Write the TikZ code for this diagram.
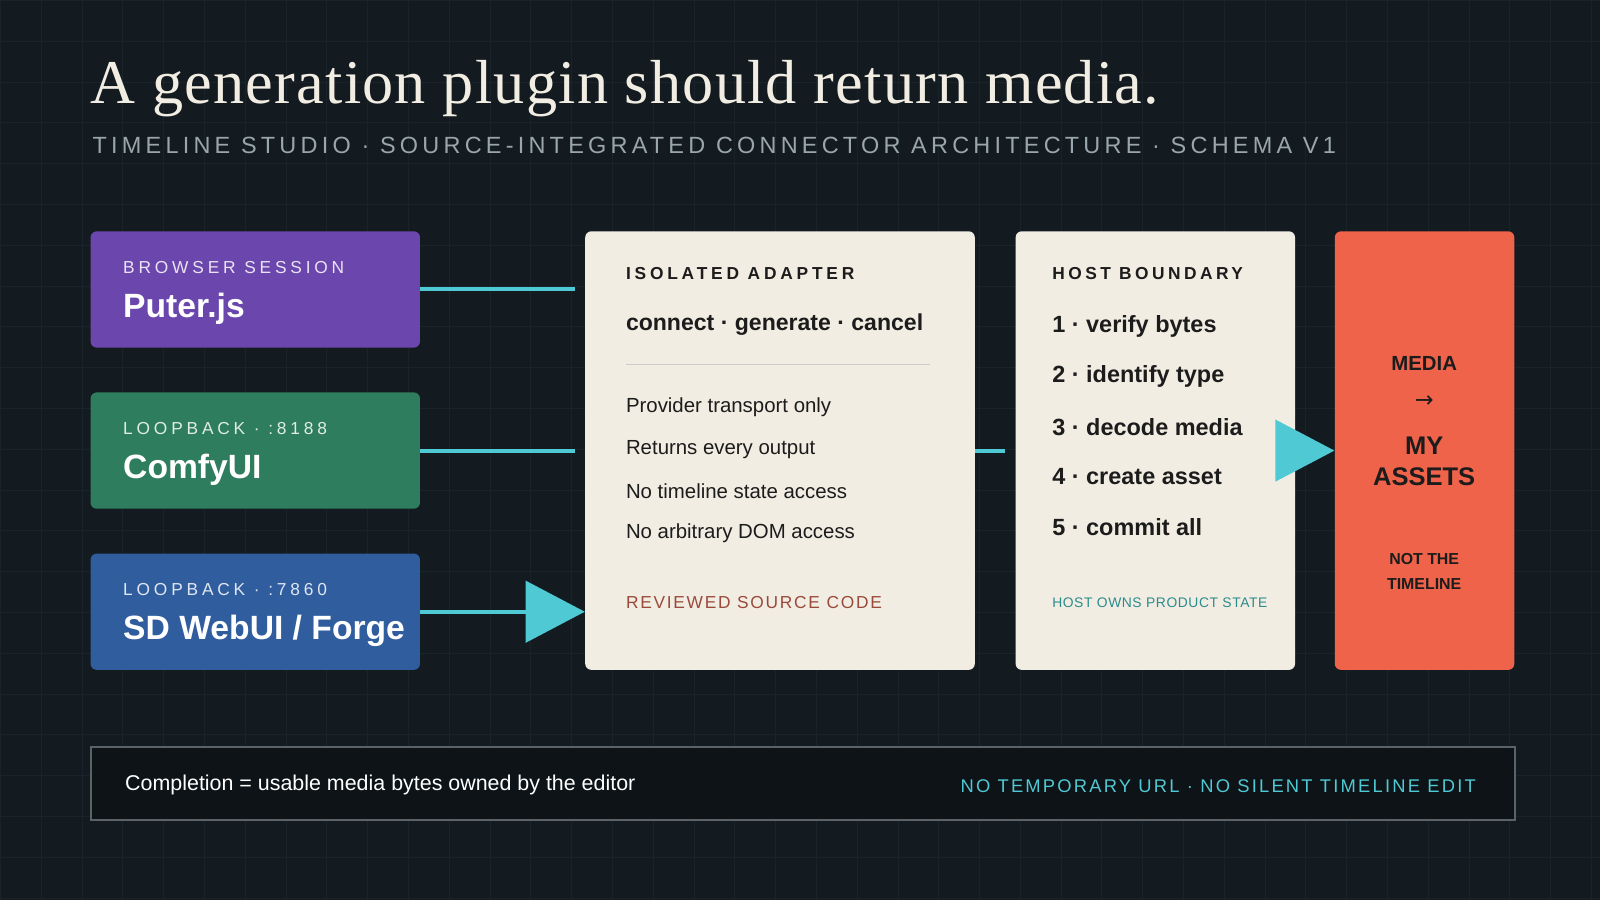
\documentclass[tikz,border=0pt]{standalone}
\usepackage{fontspec}
\setmainfont{Liberation Sans}
\newfontfamily\ttl{Liberation Serif}
\newfontfamily\dvs{DejaVu Sans}
\usetikzlibrary{arrows.meta}
\definecolor{bg}{HTML}{131B20}
\definecolor{gridc}{HTML}{1A2329}
\definecolor{cy}{HTML}{4FC9D3}
\definecolor{card}{HTML}{F2EDE3}
\definecolor{pur}{HTML}{6B47AD}
\definecolor{grn}{HTML}{2F7D5F}
\definecolor{blu}{HTML}{2F5D9E}
\definecolor{org}{HTML}{EF634A}
\definecolor{ink}{HTML}{1C1C1C}
\definecolor{sub}{HTML}{9AA6AD}
\definecolor{rev}{HTML}{9A4A3A}
\definecolor{tealc}{HTML}{2A8C8C}
\definecolor{footbg}{HTML}{0D1317}
\definecolor{footln}{HTML}{5A6368}
\begin{document}
\begin{tikzpicture}[x=0.5pt,y=-0.5pt,
  box/.style={rounded corners=3pt, inner sep=0, anchor=north west},
  lab/.style={anchor=west, inner sep=0},
  conn/.style={cy, line width=2pt},
  big/.style={conn,-{Triangle[length=29pt,width=30pt]}},
]
\fill[bg] (0,0) rectangle (1568,882);
\foreach \i in {0,40,...,1560} \draw[gridc,line width=0.4pt] (\i,0) -- (\i,882);
\foreach \j in {0,40,...,880} \draw[gridc,line width=0.4pt] (0,\j) -- (1568,\j);
\useasboundingbox (0,0) rectangle (1568,882);

\node[lab,anchor=base west,text=card,font=\ttl\fontsize{30.5}{33}\selectfont] (title) at (88,101) {\addfontfeature{LetterSpace=2}A generation plugin should return media.};
\node[lab,text=sub,font=\fontsize{11.5}{13}\selectfont] (subt) at (90,142) {\addfontfeature{LetterSpace=18}TIMELINE STUDIO · SOURCE-INTEGRATED CONNECTOR ARCHITECTURE · SCHEMA V1};

\path (88,226) node[box,fill=pur,minimum width=161.5pt,minimum height=57pt] (puter) {};
\path (88,384) node[box,fill=grn,minimum width=161.5pt,minimum height=57pt] (comfy) {};
\path (88,542) node[box,fill=blu,minimum width=161.5pt,minimum height=57pt] (forge) {};
\path (573,226) node[box,fill=card,minimum width=191pt,minimum height=215pt] (adapter) {};
\path (995,226) node[box,fill=card,minimum width=137pt,minimum height=215pt] (host) {};
\path (1308,226) node[box,fill=org,minimum width=88pt,minimum height=215pt] (media) {};

\draw[conn,shorten >=5pt] (puter.east) -- (puter.east -| adapter.west);
\draw[conn,shorten >=5pt] (comfy.east) -- (comfy.east -| adapter.west);
\draw[big] (forge.east) -- (forge.east -| adapter.west);
\draw[conn,shorten >=5pt] (adapter.east |- comfy.east) -- (host.west |- comfy.east);
\draw[big] ([xshift=-2pt]host.east) -- (media.west);

\node[lab,text=white!85!pur,font=\fontsize{8.5}{10}\selectfont] (p1) at (120,262) {\addfontfeature{LetterSpace=22}BROWSER SESSION};
\node[lab,text=white,font=\bfseries\fontsize{16.5}{19}\selectfont] (p2) at (120,302) {Puter.js};
\node[lab,text=white!85!grn,font=\fontsize{8.5}{10}\selectfont] (c1) at (120,420) {\addfontfeature{LetterSpace=22}LOOPBACK · :8188};
\node[lab,text=white,font=\bfseries\fontsize{16.5}{19}\selectfont] (c2) at (120,460) {ComfyUI};
\node[lab,text=white!85!blu,font=\fontsize{8.5}{10}\selectfont] (f1) at (120,578) {\addfontfeature{LetterSpace=22}LOOPBACK · :7860};
\node[lab,text=white,font=\bfseries\fontsize{16.5}{19}\selectfont] (f2) at (120,618) {SD WebUI / Forge};

\node[lab,text=ink,font=\bfseries\fontsize{8.5}{10}\selectfont] (a1) at (613,268) {\addfontfeature{LetterSpace=22}ISOLATED ADAPTER};
\node[lab,text=ink,font=\bfseries\fontsize{11.3}{13}\selectfont] (a2) at (613,318) {connect · generate · cancel};
\draw[black!20,line width=0.8pt] (613,357) -- (911,357);
\foreach \t/\y [count=\k] in {Provider transport only/399,Returns every output/440,No timeline state access/481,No arbitrary DOM access/522}
  \node[lab,text=ink,font=\fontsize{10}{12}\selectfont] (ai\k) at (613,\y) {\t};
\node[lab,text=rev,font=\fontsize{8.5}{10}\selectfont] (a3) at (613,590) {\addfontfeature{LetterSpace=10}REVIEWED SOURCE CODE};

\node[lab,text=ink,font=\bfseries\fontsize{8.5}{10}\selectfont] (h1) at (1031,268) {\addfontfeature{LetterSpace=20}HOST BOUNDARY};
\foreach \t/\y [count=\k] in {1 · verify bytes/320,2 · identify type/369,3 · decode media/418,4 · create asset/467,5 · commit all/516}
  \node[lab,text=ink,font=\bfseries\fontsize{11.5}{13}\selectfont] (hi\k) at (1031,\y) {\t};
\node[lab,text=tealc,font=\fontsize{6.8}{8}\selectfont] (h2) at (1031,591) {\addfontfeature{LetterSpace=4}HOST OWNS PRODUCT STATE};

\node[text=ink,font=\bfseries\fontsize{10}{12}\selectfont,inner sep=0] (m1) at (1396,356) {MEDIA};
\node[text=ink,font=\dvs\fontsize{11}{12}\selectfont,inner sep=0] (m2) at (1396,393) {→};
\node[text=ink,font=\bfseries\fontsize{12.5}{15.5}\selectfont,align=center,inner sep=0] (m3) at (1396,452) {MY\\ASSETS};
\node[text=ink,font=\bfseries\fontsize{7.8}{12}\selectfont,align=center,inner sep=0] (m4) at (1396,560) {NOT THE\\TIMELINE};

\node[box,fill=footbg,draw=footln,line width=0.8pt,rounded corners=0,minimum width=698pt,minimum height=36pt] (foot) at (88,731) {};
\node[lab,text=white,font=\fontsize{10.5}{12}\selectfont] (ft1) at (122,769) {Completion = usable media bytes owned by the editor};
\node[lab,anchor=east,text=cy,font=\fontsize{9}{11}\selectfont] (ft2) at (1447,770) {\addfontfeature{LetterSpace=12}NO TEMPORARY URL · NO SILENT TIMELINE EDIT};
\end{tikzpicture}
\end{document}
